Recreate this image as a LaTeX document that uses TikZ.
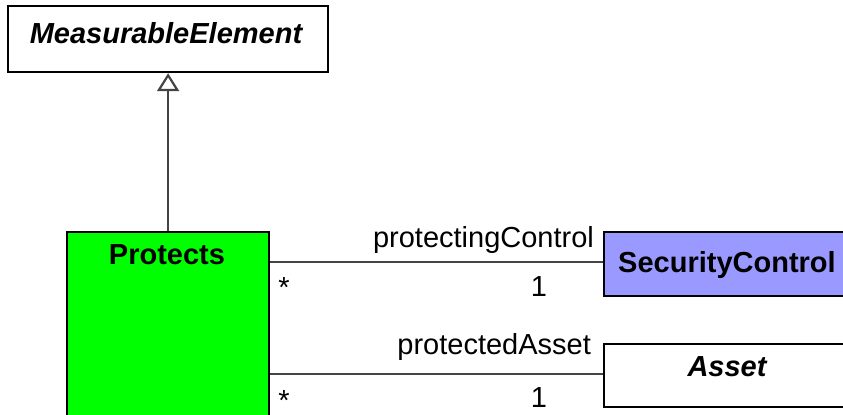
\documentclass[tikz,border=0pt]{standalone}
\usepackage{fontspec}
\setmainfont{Liberation Sans}
\usetikzlibrary{arrows.meta}
\definecolor{protgreen}{RGB}{0,255,0}
\definecolor{ctrlblue}{RGB}{153,153,255}
\definecolor{linegray}{RGB}{68,68,68}
\newcommand\umlfont{\fontsize{14.5}{17}\selectfont}

\begin{document}
\begin{tikzpicture}[x=0.5pt,y=-0.5pt,
  classbox/.style={draw=black, line width=1.1pt, anchor=north west, inner sep=0pt},
  classname/.style={font=\umlfont\bfseries, anchor=base, inner sep=0pt},
  assoc/.style={draw=linegray, line width=1.1pt},
  role/.style={font=\umlfont, inner sep=0pt}]
  \useasboundingbox (0,0) rectangle (843,415);
  \clip (0,0) rectangle (843,415);

%classes:
  \node[classbox, minimum width=160pt, minimum height=33pt] (meas) at (7,5) {};
  \node[classname, font=\umlfont\bfseries\itshape] (measname) at (166,44) {MeasurableElement};
  \node[classbox, fill=protgreen, minimum width=101pt, minimum height=100pt] (protects) at (66,231) {};
  \node[classname] (protname) at (167,265) {Protects};
  \node[classbox, fill=ctrlblue, minimum width=125pt, minimum height=32pt] (sec) at (603,231) {};
  \node[classname] (secname) at (727,273) {SecurityControl};
  \node[classbox, fill=white, minimum width=125pt, minimum height=31.5pt] (asset) at (603,343) {};
  \node[classname, font=\umlfont\bfseries\itshape] (assetname) at (727,377) {Asset};
%%%%%%

  \draw[assoc, -{Triangle[open, width=11pt, length=9pt, fill=white]}] (protects.north) -- (meas.south);

  \draw[assoc] ([yshift=1pt]sec.west -| protects.east) -- node[role, at start, anchor=base west, xshift=3.5pt, yshift=-17.5pt] (ctrlstar) {*} ([yshift=1pt]sec.west)
    node[role, anchor=base east, xshift=-4pt, yshift=7.5pt] (ctrlrole) {protectingControl}
    node[role, anchor=base east, xshift=-27.5pt, yshift=-17pt] (ctrlmult) {1};
  \draw[assoc] ([yshift=0.75pt]asset.west -| protects.east) -- node[role, at start, anchor=base west, xshift=3.5pt, yshift=-18pt] (assetstar) {*} ([yshift=0.75pt]asset.west)
    node[role, anchor=base east, xshift=-5.5pt, yshift=10pt] (assetrole) {protectedAsset}
    node[role, anchor=base east, xshift=-27.5pt, yshift=-16.5pt] (assetmult) {1};
\end{tikzpicture}
\end{document}
